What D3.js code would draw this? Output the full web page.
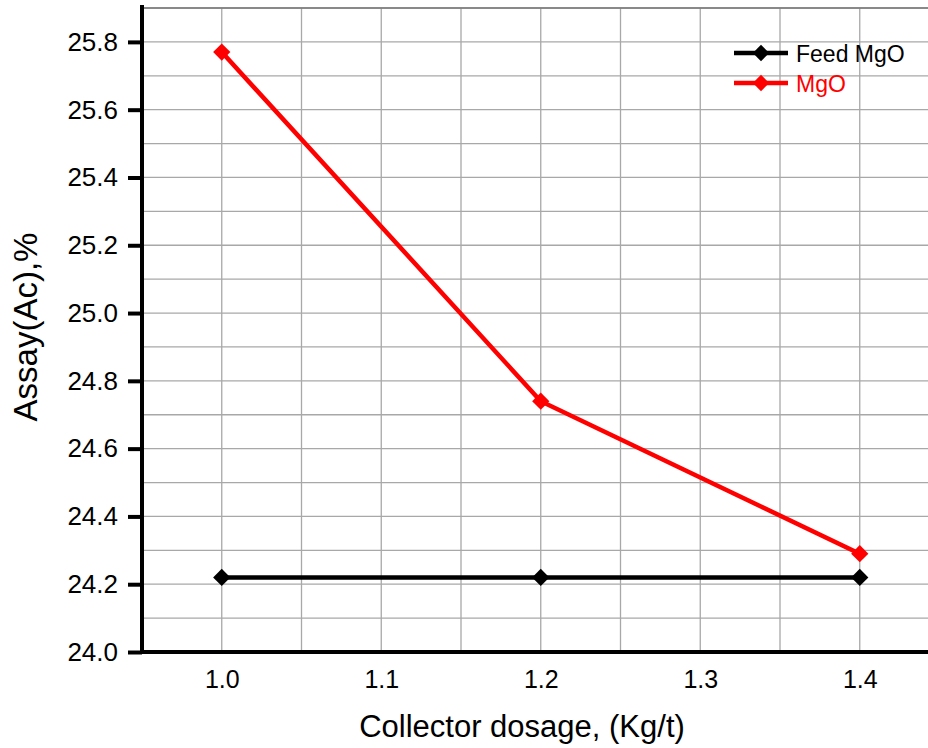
<!DOCTYPE html>
<html><head><meta charset="utf-8">
<script src="https://cdn.jsdelivr.net/npm/d3@7"></script>
<style>body{margin:0;background:#fff}svg{display:block;font-family:"Liberation Sans",Arial,sans-serif}</style>
</head><body><svg id="c" width="928" height="748"></svg>
<script>
const dosage = [1.0, 1.2, 1.4];
const feedMgO = [24.22, 24.22, 24.22];
const mgo = [25.77, 24.74, 24.29];
const xTicks = [1.0, 1.1, 1.2, 1.3, 1.4];
const yTicks = [24.0, 24.2, 24.4, 24.6, 24.8, 25.0, 25.2, 25.4, 25.6, 25.8];
const seriesNames = ["Feed MgO", "MgO"];
const seriesColors = ["#000000", "#ff0000"];

const svg = d3.select("#c");
const x = d3.scaleLinear().domain([0.95, 1.45]).range([142, 939.5]);
const y = d3.scaleLinear().domain([24.0, 25.9]).range([652, 8]);
const FF = "Liberation Sans, Arial, sans-serif";

// grid
const gx = d3.range(0, 11).map(i => 0.95 + i * 0.05);
const gy = d3.range(0, 20).map(i => 24.0 + i * 0.1);
svg.append("g").selectAll("line").data(gx.slice(1)).join("line")
  .attr("x1", d => x(d)).attr("x2", d => x(d)).attr("y1", y(25.9)).attr("y2", y(24))
  .attr("stroke", "#a8a8a8").attr("stroke-width", 1.3);
svg.append("g").selectAll("line").data(gy.slice(1)).join("line")
  .attr("x1", x(0.95)).attr("x2", x(1.45)).attr("y1", d => y(d)).attr("y2", d => y(d))
  .attr("stroke", "#a8a8a8").attr("stroke-width", 1.3);
svg.append("line").attr("x1", x(0.95)).attr("x2", x(1.45)).attr("y1", y(25.9)).attr("y2", y(25.9))
  .attr("stroke", "#777").attr("stroke-width", 1.5);

// axes
const yAxis = svg.append("g").attr("transform", `translate(${x(0.95)},0)`)
  .call(d3.axisLeft(y).tickValues(yTicks).tickFormat(d3.format(".1f")).tickSize(14).tickPadding(10));
yAxis.select(".domain").remove();
yAxis.attr("font-size", null).attr("font-family", null);
yAxis.selectAll(".tick line").attr("stroke", "#000").attr("stroke-width", 4);
yAxis.selectAll("text").style("font-size", "26px").attr("fill", "#000").style("font-family", FF);

const xAxis = svg.append("g").attr("transform", `translate(0,${y(24)})`)
  .call(d3.axisBottom(x).tickValues(xTicks).tickFormat(d3.format(".1f")).tickSize(0).tickPadding(18));
xAxis.select(".domain").remove();
xAxis.attr("font-size", null).attr("font-family", null);
xAxis.selectAll("text").style("font-size", "25px").attr("fill", "#000").style("font-family", FF);

svg.append("line").attr("x1", x(0.95)).attr("x2", x(0.95)).attr("y1", 5).attr("y2", y(24) + 2)
  .attr("stroke", "#000").attr("stroke-width", 4);
svg.append("line").attr("x1", x(0.95) - 2).attr("x2", 928).attr("y1", y(24)).attr("y2", y(24))
  .attr("stroke", "#000").attr("stroke-width", 4);

// series
const series = [feedMgO, mgo];
const line = d3.line().x((d, i) => x(dosage[i])).y(d => y(d));
const diamond = d3.symbol().type(d3.symbolDiamond2).size(190);
series.forEach((vals, k) => {
  svg.append("path").datum(vals).attr("d", line).attr("fill", "none")
    .attr("stroke", seriesColors[k]).attr("stroke-width", 4.5);
  svg.append("g").selectAll("path").data(vals).join("path")
    .attr("d", diamond)
    .attr("transform", (d, i) => `translate(${x(dosage[i])},${y(d)})`)
    .attr("fill", seriesColors[k]);
});

// legend
const leg = svg.append("g");
seriesNames.forEach((n, k) => {
  const ly = 53 + k * 30;
  leg.append("line").attr("x1", 734).attr("x2", 788).attr("y1", ly).attr("y2", ly)
    .attr("stroke", seriesColors[k]).attr("stroke-width", 4.5);
  leg.append("path").attr("d", d3.symbol().type(d3.symbolDiamond2).size(170))
    .attr("transform", `translate(761,${ly})`).attr("fill", seriesColors[k]);
  leg.append("text").attr("x", 796).attr("y", ly + 9).style("font-size", "23px")
    .attr("fill", seriesColors[k]).text(n);
});

// titles
svg.append("text").attr("x", 522).attr("y", 737).attr("text-anchor", "middle")
  .style("font-size", "31px").attr("fill", "#000").text("Collector dosage, (Kg/t)");
svg.append("text").attr("transform", "translate(37,327) rotate(-90)").attr("text-anchor", "middle")
  .style("font-size", "33px").attr("fill", "#000").text("Assay(Ac),%");
</script></body></html>
